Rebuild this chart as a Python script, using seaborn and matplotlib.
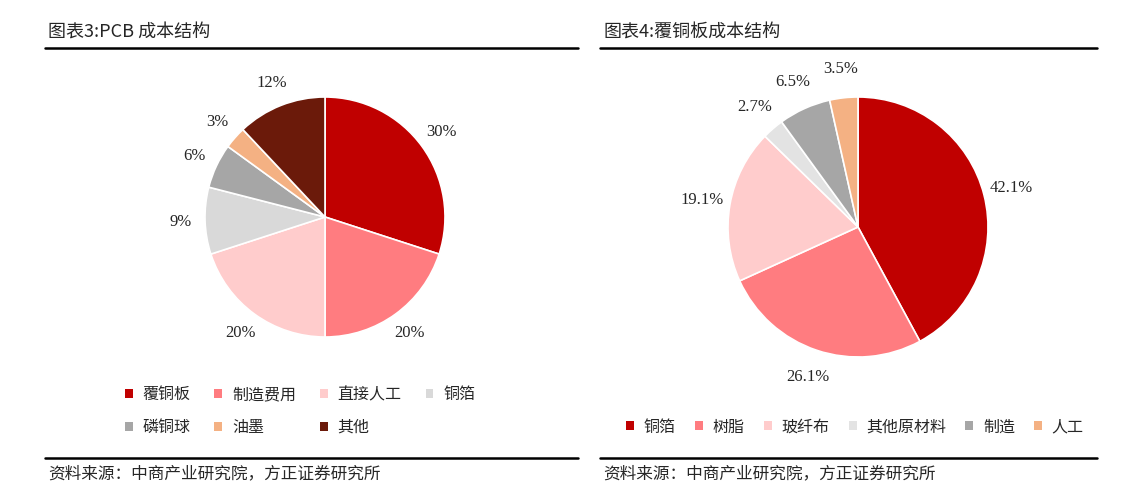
import matplotlib
matplotlib.use("Agg")
import numpy as np
import matplotlib.pyplot as plt
import seaborn as sns
from matplotlib.patches import Patch
from matplotlib.lines import Line2D

sns.set_theme(style="white")
plt.rcParams['font.family'] = ['Noto Sans CJK SC', 'DejaVu Sans']

# 图表3: PCB 成本结构
pcb_labels = ['覆铜板', '制造费用', '直接人工', '铜箔', '磷铜球', '油墨', '其他']
pcb_values = [30, 20, 20, 9, 6, 3, 12]
pcb_pct = ['30%', '20%', '20%', '9%', '6%', '3%', '12%']
pcb_colors = ['#C00000', '#FF7C80', '#FFCCCC', '#D9D9D9', '#A6A6A6', '#F4B183', '#6B1A0A']

# 图表4: 覆铜板成本结构
ccl_labels = ['铜箔', '树脂', '玻纤布', '其他原材料', '制造', '人工']
ccl_values = [42.1, 26.1, 19.1, 2.7, 6.5, 3.5]
ccl_pct = ['42.1%', '26.1%', '19.1%', '2.7%', '6.5%', '3.5%']
ccl_colors = ['#C00000', '#FF7C80', '#FFCCCC', '#E3E3E3', '#A6A6A6', '#F4B183']

W, H = 1141, 503
fig = plt.figure(figsize=(W / 100, H / 100), dpi=100)


def px_axes(cx, cy, r):
    return fig.add_axes([(cx - r) / W, 1 - (cy + r) / H, 2 * r / W, 2 * r / H])


def draw_pie(ax, values, colors, pct, dist):
    wedges, _ = ax.pie(values, colors=colors, startangle=90, counterclock=False,
                       wedgeprops=dict(edgecolor='white', linewidth=1.2))
    for w, t in zip(wedges, pct):
        ang = np.deg2rad((w.theta1 + w.theta2) / 2)
        ax.text(dist * np.cos(ang), dist * np.sin(ang), t, ha='center', va='center',
                fontsize=12, family=['Liberation Serif'])
    ax.set_xlim(-1, 1)
    ax.set_ylim(-1, 1)
    ax.set_aspect('equal')
    ax.axis('off')


ax1 = px_axes(325, 217, 120)
draw_pie(ax1, pcb_values, pcb_colors, pcb_pct, 1.2)
ax2 = px_axes(858, 227, 130)
draw_pie(ax2, ccl_values, ccl_colors, ccl_pct, 1.22)

# titles, rules and sources
for x0, x1, title in [(45, 578, '图表3:PCB 成本结构'), (600, 1097, '图表4:覆铜板成本结构')]:
    fig.text(x0 / W + 0.003, 1 - 33 / H, title, fontsize=13, va='center', ha='left')
    for y in (48, 458):
        fig.add_artist(Line2D([x0 / W, x1 / W], [1 - y / H, 1 - y / H], color='black', lw=1.8))
    fig.text(x0 / W + 0.003, 1 - 474 / H, '资料来源：中商产业研究院，方正证券研究所',
             fontsize=12, va='center', ha='left', style='italic')


def legend_handles(labels, colors):
    return [Patch(facecolor=c, edgecolor='none', label=l) for l, c in zip(labels, colors)]


# row-wise order for a 4-column legend
h1 = legend_handles(pcb_labels, pcb_colors)
h1 = [h1[i] for i in (0, 4, 1, 5, 2, 6, 3)]
fig.legend(handles=h1, ncol=4, frameon=False,
           loc='center', bbox_to_anchor=(300 / W, 1 - 411 / H), fontsize=11.5,
           handlelength=0.5, handleheight=0.5, handletextpad=0.6, columnspacing=1.5,
           labelspacing=1.0)
fig.legend(handles=legend_handles(ccl_labels, ccl_colors), ncol=6, frameon=False,
           loc='center', bbox_to_anchor=(855 / W, 1 - 427 / H), fontsize=11.5,
           handlelength=0.5, handleheight=0.5, handletextpad=0.6, columnspacing=1.2)

fig.savefig('out.png', dpi=100)
